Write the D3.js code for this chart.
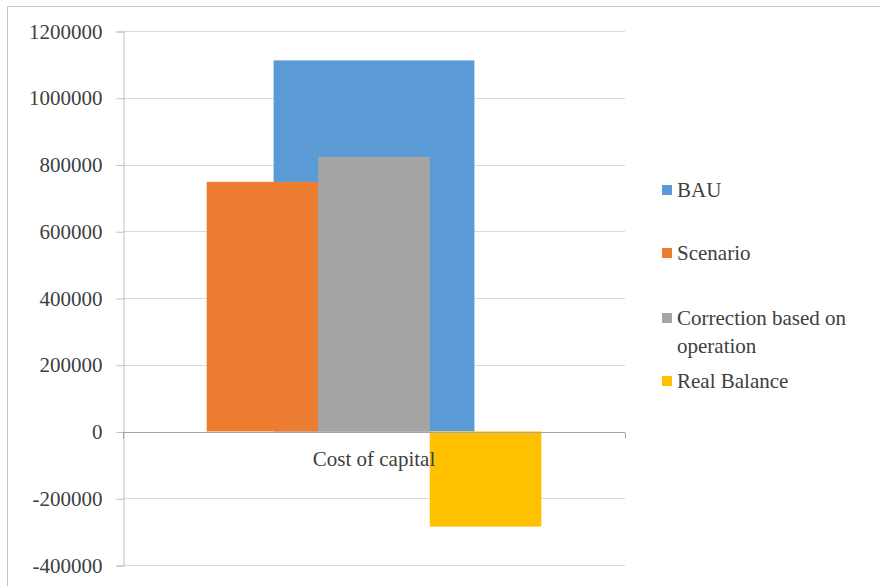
<!DOCTYPE html>
<html>
<head>
<meta charset="utf-8">
<script src="https://cdn.jsdelivr.net/npm/d3@7"></script>
<style>
    body { margin: 0; background: #ffffff; }
    svg text { font-family: "Liberation Serif", "DejaVu Serif", "Times New Roman", serif; fill: #404040; }
</style>
</head>
<body>
<div id="chart"></div>
<script>
var svgWidth = 880;
var svgHeight = 586;
var fontStack = "'Liberation Serif', 'DejaVu Serif', 'Times New Roman', serif";

// data
var categories = ["Cost of capital"];
var primarySeries = ["BAU"];
var secondarySeries = ["Scenario", "Correction based on operation", "Real Balance"];
var seriesValues =
{
    "BAU": [1112000],
    "Scenario": [748000],
    "Correction based on operation": [823000],
    "Real Balance": [-285000]
};
var yTicks = [-400000, -200000, 0, 200000, 400000, 600000, 800000, 1000000, 1200000];
var legendNames = ["BAU", "Scenario", "Correction based on operation", "Real Balance"];
var legendLines = [["BAU"], ["Scenario"], ["Correction based on", "operation"], ["Real Balance"]];

var colors =
{
    "BAU": "#5b9bd5",
    "Scenario": "#ed7d31",
    "Correction based on operation": "#a5a5a5",
    "Real Balance": "#ffc000"
};

var plot =
{
    left: 123,
    right: 625,
    top: 31,
    bottom: 565
};

var svg = d3
    .select("#chart")
    .append("svg")
    .attr("width", svgWidth)
    .attr("height", svgHeight);

// outer frame (cropped, only top and left edges show)
svg.append("line")
    .attr("x1", 7.5).attr("x2", svgWidth)
    .attr("y1", 6.5).attr("y2", 6.5)
    .attr("stroke", "#c4c4c4");
svg.append("line")
    .attr("x1", 7.5).attr("x2", 7.5)
    .attr("y1", 6.5).attr("y2", svgHeight)
    .attr("stroke", "#c4c4c4");

var xScale = d3.scaleBand()
    .domain(categories)
    .range([plot.left, plot.right]);

var yScale = d3.scaleLinear()
    .domain([-400000, 1200000])
    .range([plot.bottom, plot.top]);

// gridlines
svg.append("g")
    .selectAll("line")
    .data(yTicks.filter(d => d !== 0))
    .enter()
    .append("line")
    .attr("x1", plot.left)
    .attr("x2", plot.right)
    .attr("y1", d => Math.round(yScale(d)) + 0.5)
    .attr("y2", d => Math.round(yScale(d)) + 0.5)
    .attr("stroke", "#d9d9d9")
    .attr("stroke-width", 1);

// y axis
var leftAxis = d3.axisLeft(yScale)
    .tickValues(yTicks)
    .tickSize(7)
    .tickPadding(14)
    .tickFormat(d => String(d));

var yAxis = svg.append("g")
    .attr("transform", `translate(${plot.left + 0.5}, 0.5)`)
    .attr("font-family", fontStack)
    .call(leftAxis);

yAxis.select(".domain").attr("stroke", "#bfbfbf");
yAxis.selectAll(".tick line").attr("stroke", "#bfbfbf");
yAxis.selectAll(".tick text")
    .attr("font-size", 21)
    .attr("font-family", fontStack)
    .attr("fill", "#404040");

// bars: BAU in its own wide group behind, the others side by side
function barWidth(n)
{
    return xScale.bandwidth() / (n + 1.5);
}

var barsGroup = svg.append("g");

primarySeries.forEach(function (name)
{
    var w = barWidth(primarySeries.length);
    barsGroup.selectAll(null)
        .data(categories.map((c, i) => ({ cat: c, value: seriesValues[name][i] })))
        .enter()
        .append("rect")
        .attr("x", d => xScale(d.cat) + xScale.bandwidth() / 2 - w / 2)
        .attr("width", w)
        .attr("y", d => yScale(Math.max(0, d.value)))
        .attr("height", d => Math.abs(yScale(d.value) - yScale(0)))
        .attr("fill", colors[name]);
});

var innerWidth = barWidth(secondarySeries.length) * secondarySeries.length;
var innerScale = d3.scaleBand()
    .domain(secondarySeries)
    .range([0, innerWidth]);

secondarySeries.forEach(function (name)
{
    barsGroup.selectAll(null)
        .data(categories.map((c, i) => ({ cat: c, value: seriesValues[name][i] })))
        .enter()
        .append("rect")
        .attr("x", d => xScale(d.cat) + xScale.bandwidth() / 2 - innerWidth / 2 + innerScale(name))
        .attr("width", innerScale.bandwidth())
        .attr("y", d => yScale(Math.max(0, d.value)))
        .attr("height", d => Math.abs(yScale(d.value) - yScale(0)))
        .attr("fill", colors[name]);
});

// category axis at zero
var zeroY = Math.round(yScale(0)) + 0.5;
var xAxisGroup = svg.append("g");

xAxisGroup.append("line")
    .attr("x1", plot.left)
    .attr("x2", plot.right)
    .attr("y1", zeroY)
    .attr("y2", zeroY)
    .attr("stroke", "#a6a6a6");

xAxisGroup.selectAll(".xtick")
    .data([plot.left, plot.right])
    .enter()
    .append("line")
    .attr("x1", d => d + 0.5)
    .attr("x2", d => d + 0.5)
    .attr("y1", zeroY)
    .attr("y2", zeroY + 6)
    .attr("stroke", "#a6a6a6");

xAxisGroup.selectAll("text")
    .data(categories)
    .enter()
    .append("text")
    .attr("x", d => xScale(d) + xScale.bandwidth() / 2)
    .attr("y", zeroY + 33)
    .attr("text-anchor", "middle")
    .attr("font-family", fontStack)
    .attr("font-size", 21)
    .text(d => d);

// legend
var legendY = [190, 253, 318, 381];

var legend = svg.append("g")
    .selectAll("g")
    .data(legendNames)
    .enter()
    .append("g")
    .attr("transform", (d, i) => `translate(662, ${legendY[i]})`);

legend.append("rect")
    .attr("x", 0)
    .attr("y", -5)
    .attr("width", 10)
    .attr("height", 10)
    .attr("fill", d => colors[d]);

legend.each(function (d, i)
{
    var t = d3.select(this)
        .append("text")
        .attr("x", 15)
        .attr("y", 7)
        .attr("font-family", fontStack)
        .attr("font-size", 21);
    legendLines[i].forEach(function (line, j)
    {
        t.append("tspan")
            .attr("x", 15)
            .attr("dy", j === 0 ? 0 : 28)
            .text(line);
    });
});
</script>
</body>
</html>
